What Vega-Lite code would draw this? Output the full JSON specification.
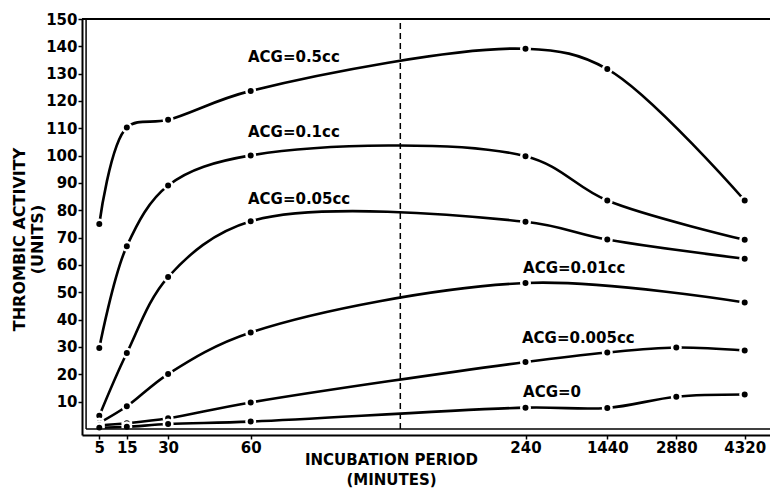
{
  "$schema": "https://vega.github.io/schema/vega-lite/v6.json",
  "width": 688,
  "height": 416,
  "autosize": "none",
  "padding": {"left": 82, "top": 19, "right": 0, "bottom": 53},
  "background": "white",
  "config": {"view": {"stroke": null}, "font": "DejaVu Sans", "axis": {"labelOverlap": false}},
  "datasets": {
    "curves": [
      {"series": "0.5cc", "min": 5, "val": 75},
      {"series": "0.5cc", "min": 15, "val": 110.3},
      {"series": "0.5cc", "min": 30, "val": 113.1},
      {"series": "0.5cc", "min": 60, "val": 123.7},
      {"series": "0.5cc", "min": 240, "val": 139.1},
      {"series": "0.5cc", "min": 1440, "val": 131.7},
      {"series": "0.5cc", "min": 4320, "val": 83.6},
      {"series": "0.1cc", "min": 5, "val": 29.6},
      {"series": "0.1cc", "min": 15, "val": 66.9},
      {"series": "0.1cc", "min": 30, "val": 89.1},
      {"series": "0.1cc", "min": 60, "val": 100.1},
      {"series": "0.1cc", "min": 240, "val": 99.8},
      {"series": "0.1cc", "min": 1440, "val": 83.6},
      {"series": "0.1cc", "min": 4320, "val": 69.2},
      {"series": "0.05cc", "min": 5, "val": 4.8},
      {"series": "0.05cc", "min": 15, "val": 27.8},
      {"series": "0.05cc", "min": 30, "val": 55.6},
      {"series": "0.05cc", "min": 60, "val": 76.0},
      {"series": "0.05cc", "min": 240, "val": 75.8},
      {"series": "0.05cc", "min": 1440, "val": 69.3},
      {"series": "0.05cc", "min": 4320, "val": 62.3},
      {"series": "0.01cc", "min": 5, "val": 2.2},
      {"series": "0.01cc", "min": 15, "val": 8.3},
      {"series": "0.01cc", "min": 30, "val": 20.1},
      {"series": "0.01cc", "min": 60, "val": 35.3},
      {"series": "0.01cc", "min": 240, "val": 53.4},
      {"series": "0.01cc", "min": 4320, "val": 46.3},
      {"series": "0.005cc", "min": 5, "val": 1.3},
      {"series": "0.005cc", "min": 15, "val": 2.1},
      {"series": "0.005cc", "min": 30, "val": 3.9},
      {"series": "0.005cc", "min": 60, "val": 9.7},
      {"series": "0.005cc", "min": 240, "val": 24.5},
      {"series": "0.005cc", "min": 1440, "val": 28.0},
      {"series": "0.005cc", "min": 2880, "val": 29.8},
      {"series": "0.005cc", "min": 4320, "val": 28.7},
      {"series": "0", "min": 5, "val": 0.5},
      {"series": "0", "min": 15, "val": 0.8},
      {"series": "0", "min": 30, "val": 1.8},
      {"series": "0", "min": 60, "val": 2.7},
      {"series": "0", "min": 240, "val": 7.8},
      {"series": "0", "min": 1440, "val": 7.7},
      {"series": "0", "min": 2880, "val": 11.8},
      {"series": "0", "min": 4320, "val": 12.6}
    ],
    "labels": [
      {"label": "ACG=0.5cc", "min": 59, "val": 136.1},
      {"label": "ACG=0.1cc", "min": 59, "val": 108.6},
      {"label": "ACG=0.05cc", "min": 59, "val": 84.2},
      {"label": "ACG=0.01cc", "min": 238.4, "val": 58.9},
      {"label": "ACG=0.005cc", "min": 237.7, "val": 33.3},
      {"label": "ACG=0", "min": 238.4, "val": 13.5}
    ],
    "one": [{}]
  },
  "layer": [
    {
      "data": {"name": "curves"},
      "mark": {"type": "line", "interpolate": "catmull-rom", "color": "black", "strokeWidth": 2.6},
      "encoding": {
        "x": {
          "field": "min", "type": "quantitative",
          "scale": {"domain": [-1.28, 5, 60, 240, 1440, 2880, 4320, 4852], "range": [0, 17.3, 168.7, 443.5, 525.3, 594.3, 662.7, 688], "nice": false, "zero": false},
          "axis": {
            "values": [5, 15, 30, 60, 240, 1440, 2880, 4320], "format": "d", "tickCount": 30,
            "grid": false, "domainColor": "black", "domainWidth": 2,
            "tickColor": "black", "tickSize": 4, "tickWidth": 1.5,
            "labelFont": "DejaVu Sans", "labelFontSize": 15, "labelFontWeight": "bold", "labelColor": "black",
            "labelPadding": 1, "labelFlush": false, "labelOverlap": false,
            "title": ["INCUBATION PERIOD", "(MINUTES)"],
            "titleFont": "DejaVu Sans", "titleFontSize": 15, "titleFontWeight": "bold", "titleColor": "black",
            "titleX": 309, "titleY": 17, "titleAlign": "center", "titleBaseline": "top", "titleLineHeight": 20
          }
        },
        "y": {
          "field": "val", "type": "quantitative",
          "scale": {"domain": [-2.2, 150], "nice": false, "zero": false},
          "axis": {
            "values": [10, 20, 30, 40, 50, 60, 70, 80, 90, 100, 110, 120, 130, 140, 150], "tickCount": 30,
            "grid": false, "domainColor": "black", "domainWidth": 2,
            "tickColor": "black", "tickSize": 4, "tickWidth": 1.5,
            "labelFont": "DejaVu Sans", "labelFontSize": 15, "labelFontWeight": "bold", "labelColor": "black",
            "labelPadding": 1, "labelOverlap": false, "labelFlush": false,
            "title": ["THROMBIC ACTIVITY", "(UNITS)"],
            "titleFont": "DejaVu Sans", "titleFontSize": 16, "titleFontWeight": "bold", "titleColor": "black",
            "titleX": -55, "titleY": 220, "titleAngle": -90, "titleAlign": "center", "titleBaseline": "bottom", "titleLineHeight": 18
          }
        },
        "detail": {"field": "series", "type": "nominal"}
      }
    },
    {
      "data": {"name": "curves"},
      "mark": {"type": "point", "filled": true, "fill": "black", "stroke": "white", "strokeWidth": 2.5, "size": 72, "opacity": 1},
      "encoding": {
        "x": {"field": "min", "type": "quantitative"},
        "y": {"field": "val", "type": "quantitative"}
      }
    },
    {
      "data": {"name": "labels"},
      "mark": {"type": "text", "align": "left", "baseline": "middle", "font": "DejaVu Sans", "fontSize": 15, "fontWeight": "bold", "color": "black"},
      "encoding": {
        "x": {"field": "min", "type": "quantitative"},
        "y": {"field": "val", "type": "quantitative"},
        "text": {"field": "label", "type": "nominal"}
      }
    },
    {
      "data": {"name": "one"},
      "mark": {"type": "rule", "color": "black", "strokeWidth": 2},
      "encoding": {"y": {"datum": 150, "type": "quantitative"}}
    },
    {
      "data": {"name": "one"},
      "mark": {"type": "rule", "color": "black", "strokeWidth": 1.5},
      "encoding": {"y": {"datum": 0, "type": "quantitative"}, "x": {"datum": 0.2, "type": "quantitative"}, "x2": {"datum": 4852}}
    },
    {
      "data": {"name": "one"},
      "mark": {"type": "rule", "color": "black", "strokeWidth": 1.5},
      "encoding": {"x": {"datum": 0.2, "type": "quantitative"}, "y": {"datum": 0, "type": "quantitative"}, "y2": {"datum": 150}}
    },
    {
      "data": {"name": "one"},
      "mark": {"type": "rule", "color": "black", "strokeWidth": 1.5, "strokeDash": [6, 4]},
      "encoding": {"x": {"datum": 158, "type": "quantitative"}, "y": {"datum": 0, "type": "quantitative"}, "y2": {"datum": 150}}
    }
  ]
}
